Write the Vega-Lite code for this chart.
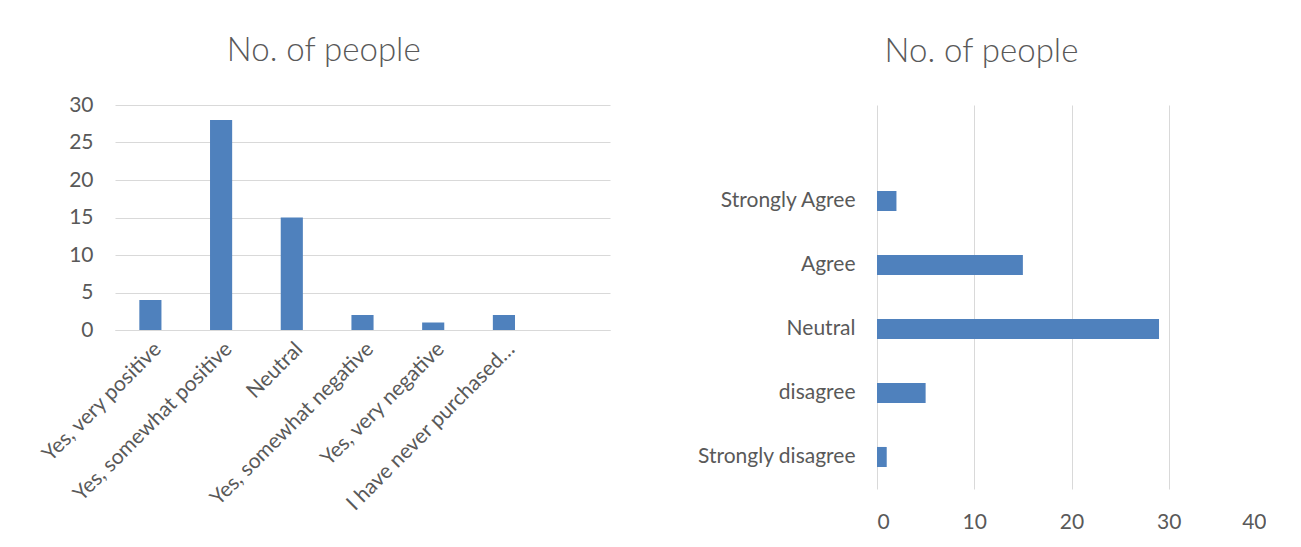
{
  "$schema": "https://vega.github.io/schema/vega-lite/v6.json",
  "background": "white",
  "padding": {"left": 37, "top": 35, "right": 0, "bottom": 0},
  "config": {
    "font": "Lato",
    "view": {"stroke": null},
    "axis": {"labelColor": "#595959", "labelFont": "Lato", "labelLimit": 0, "gridColor": "#d9d9d9", "domainColor": "#d9d9d9", "ticks": false, "title": null},
    "title": {"font": "Lato", "fontSize": 33, "fontWeight": 300, "color": "#595959", "frame": "bounds", "anchor": "middle"}
  },
  "spacing": 86,
  "hconcat": [
    {
      "title": {"text": "No. of people", "offset": 26},
      "width": 495,
      "height": 225,
      "data": {"values": [
        {"response": "Yes, very positive", "people": 4},
        {"response": "Yes, somewhat positive", "people": 28},
        {"response": "Neutral", "people": 15},
        {"response": "Yes, somewhat negative", "people": 2},
        {"response": "Yes, very negative", "people": 1},
        {"response": "I have never purchased…", "people": 2}
      ]},
      "mark": {"type": "bar", "color": "#4f81bd"},
      "encoding": {
        "x": {"field": "response", "type": "nominal", "sort": null,
          "scale": {"domain": ["Yes, very positive", "Yes, somewhat positive", "Neutral", "Yes, somewhat negative", "Yes, very negative", "I have never purchased…", " "], "paddingInner": 0.687, "paddingOuter": 0.344},
          "axis": {"labelAngle": -45, "labelFontSize": 21, "labelPadding": 8, "domain": true, "grid": false}},
        "y": {"field": "people", "type": "quantitative",
          "scale": {"domain": [0, 30]},
          "axis": {"values": [0, 5, 10, 15, 20, 25, 30], "labelFontSize": 21, "labelPadding": 22, "domain": false, "grid": true}}
      }
    },
    {
      "title": {"text": "No. of people", "offset": 36},
      "width": 389,
      "height": 384,
      "data": {"values": [
        {"response": "Strongly Agree", "people": 2},
        {"response": "Agree", "people": 15},
        {"response": "Neutral", "people": 29},
        {"response": "disagree", "people": 5},
        {"response": "Strongly disagree", "people": 1}
      ]},
      "mark": {"type": "bar", "color": "#4f81bd"},
      "encoding": {
        "y": {"field": "response", "type": "nominal", "sort": null,
          "scale": {"domain": [" ", "Strongly Agree", "Agree", "Neutral", "disagree", "Strongly disagree"], "paddingInner": 0.687, "paddingOuter": 0.344},
          "axis": {"labelFontSize": 21, "labelPadding": 22, "domain": false, "grid": false}},
        "x": {"field": "people", "type": "quantitative",
          "scale": {"domain": [0, 40]},
          "axis": {"values": [0, 10, 20, 30, 40], "labelFontSize": 21, "labelPadding": 22, "domain": false, "grid": true}}
      }
    }
  ]
}
